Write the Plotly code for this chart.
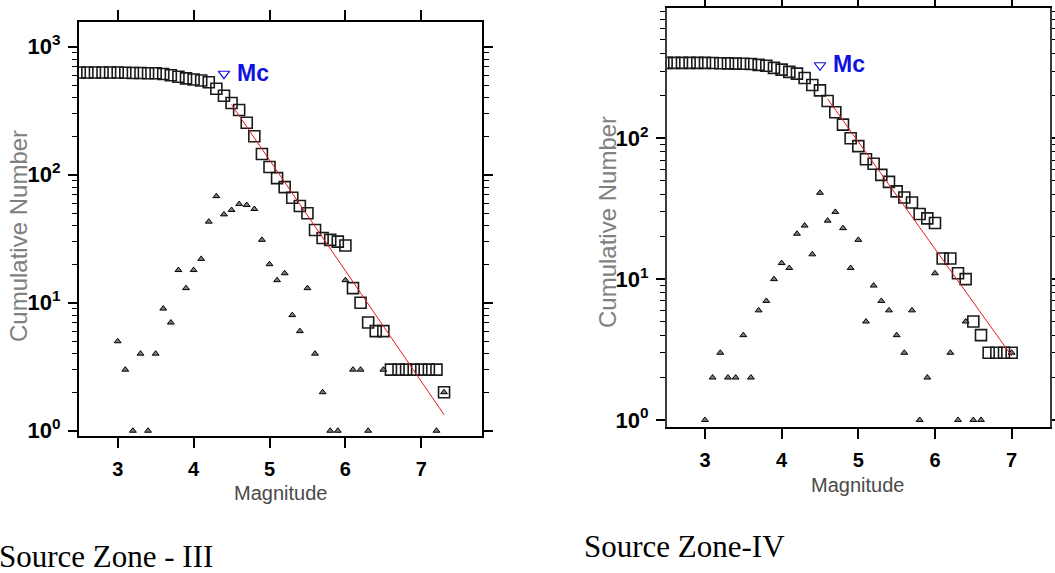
import math
import plotly.graph_objects as go

# ---------------- Source Zone - III ----------------
mag_iii = [2.5, 2.6, 2.7, 2.8, 2.9, 3.0, 3.1, 3.2, 3.3, 3.4, 3.5, 3.6, 3.7, 3.8, 3.9,
           4.0, 4.1, 4.2, 4.3, 4.4, 4.5, 4.6, 4.7, 4.8, 4.9, 5.0, 5.1, 5.2, 5.3, 5.4,
           5.5, 5.6, 5.7, 5.8, 5.9, 6.0, 6.1, 6.2, 6.3, 6.4, 6.5, 6.6, 6.7, 6.8, 6.9,
           7.0, 7.1, 7.2, 7.3]
cum_iii = [628, 628, 628, 628, 628, 628, 626, 624, 623, 621, 620, 612, 598, 583, 566,
           554, 545, 527, 470, 414, 363, 320, 255, 200, 145, 115, 94, 80, 66, 57,
           50, 37, 32, 31, 30, 28, 13, 10, 7, 6, 6, 3, 3, 3, 3,
           3, 3, 3, 2]
nc_mag_iii = [3.0, 3.1, 3.2, 3.3, 3.4, 3.5, 3.6, 3.7, 3.8, 3.9, 4.0, 4.1, 4.2, 4.3, 4.4,
              4.5, 4.6, 4.7, 4.8, 4.9, 5.0, 5.1, 5.2, 5.3, 5.4, 5.5, 5.6, 5.7, 5.8, 5.9,
              6.0, 6.1, 6.2, 6.3, 6.5, 7.2, 7.3]
nc_iii = [5, 3, 1, 4, 1, 4, 9, 7, 18, 13, 18, 22, 43, 68, 49,
          53, 59, 58, 54, 31, 20, 15, 17, 8, 6, 13, 4, 2, 1, 1,
          15, 3, 3, 1, 3, 1, 2]
mc_iii = 4.4
mc_y_iii = 615
fit_a_iii, fit_b_iii = 6.44, 0.865
fit_range_iii = [4.5, 7.3]

# ---------------- Source Zone - IV ----------------
mag_iv = [2.5, 2.6, 2.7, 2.8, 2.9, 3.0, 3.1, 3.2, 3.3, 3.4, 3.5, 3.6, 3.7, 3.8, 3.9,
          4.0, 4.1, 4.2, 4.3, 4.4, 4.5, 4.6, 4.7, 4.8, 4.9, 5.0, 5.1, 5.2, 5.3, 5.4,
          5.5, 5.6, 5.7, 5.8, 5.9, 6.0, 6.1, 6.2, 6.3, 6.4, 6.5, 6.6, 6.7, 6.8, 6.9, 7.0]
cum_iv = [343, 343, 343, 343, 343, 343, 342, 341, 340, 339, 338, 337, 332, 327, 316,
          307, 296, 288, 268, 239, 219, 184, 153, 125, 100, 88, 71, 66, 55, 49,
          42, 38, 35, 29, 27, 25, 14, 14, 11, 10, 5, 4, 3, 3, 3, 3]
nc_mag_iv = [3.0, 3.1, 3.2, 3.3, 3.4, 3.5, 3.6, 3.7, 3.8, 3.9, 4.0, 4.1, 4.2, 4.3, 4.4,
             4.5, 4.6, 4.7, 4.8, 4.9, 5.0, 5.1, 5.2, 5.3, 5.4, 5.5, 5.6, 5.7, 5.8, 5.9,
             6.0, 6.2, 6.3, 6.4, 6.5, 6.6, 7.0]
nc_iv = [1, 2, 3, 2, 2, 4, 2, 6, 7, 10, 13, 12, 21, 24, 15,
         41, 26, 30, 23, 12, 19, 5, 9, 7, 6, 4, 3, 6, 1, 2,
         11, 3, 1, 5, 1, 1, 3]
mc_iv = 4.5
mc_y_iv = 330
fit_a_iv, fit_b_iv = 5.775, 0.76
fit_range_iv = [4.6, 7.0]

x_ticks = [3, 4, 5, 6, 7]
y_major = [1, 10, 100, 1000]
y_major_text = ["10<sup>0</sup>", "10<sup>1</sup>", "10<sup>2</sup>", "10<sup>3</sup>"]
y_minor = [m * 10 ** k for k in range(0, 3) for m in range(2, 10)]

W, H = 1055, 573
NARROW = "Liberation Sans Narrow, Arial Narrow, Liberation Sans, Arial"
XTICKFONT = dict(family=NARROW, size=20, color="black", weight="bold")
YTICKFONT = dict(family=NARROW, size=22, color="black", weight="bold")

fig = go.Figure()


def add_panel(mags, cum, ncm, nc, mc, mcy, a, b, frange, xa, ya):
    fig.add_trace(go.Scatter(
        x=mags, y=cum, mode="markers", xaxis=xa, yaxis=ya,
        marker=dict(symbol="square-open", size=11, color="#1a1a1a",
                    line=dict(width=1.6, color="#1a1a1a")),
        showlegend=False, hoverinfo="skip"))
    fig.add_trace(go.Scatter(
        x=ncm, y=nc, mode="markers", xaxis=xa, yaxis=ya,
        marker=dict(symbol="triangle-up", size=6, color="#7a7a7a",
                    line=dict(width=1, color="black")),
        showlegend=False, hoverinfo="skip"))
    fx = list(frange)
    fy = [10 ** (a - b * v) for v in fx]
    fig.add_trace(go.Scatter(
        x=fx, y=fy, mode="lines", xaxis=xa, yaxis=ya,
        line=dict(color="#e8191c", width=1),
        showlegend=False, hoverinfo="skip"))
    fig.add_trace(go.Scatter(
        x=[mc], y=[mcy], mode="markers", xaxis=xa, yaxis=ya,
        marker=dict(symbol="triangle-down-open", size=10, color="#1010e0",
                    line=dict(width=1.2, color="#1010e0")),
        showlegend=False, hoverinfo="skip"))
    # annotations on a log axis take log10 coordinates
    fig.add_annotation(x=mc, y=math.log10(mcy), xref=xa, yref=ya,
                       text="Mc", showarrow=False, xanchor="left", yanchor="middle",
                       xshift=11, yshift=1,
                       font=dict(family=NARROW, size=23, color="#1010e0", weight="bold"))


add_panel(mag_iii, cum_iii, nc_mag_iii, nc_iii, mc_iii, mc_y_iii,
          fit_a_iii, fit_b_iii, fit_range_iii, "x", "y")
add_panel(mag_iv, cum_iv, nc_mag_iv, nc_iv, mc_iv, mc_y_iv,
          fit_a_iv, fit_b_iv, fit_range_iv, "x2", "y2")

common_x = dict(tickvals=x_ticks, ticktext=[str(v) for v in x_ticks], ticks="outside",
                ticklen=10, tickwidth=1.5, tickcolor="black", showline=True,
                linecolor="black", linewidth=2, mirror="ticks", showgrid=False,
                zeroline=False, tickfont=XTICKFONT, ticklabelstandoff=4, automargin=False)
common_y = dict(type="log", tickvals=y_major, ticktext=y_major_text, ticks="outside",
                ticklen=9, tickwidth=1.5, tickcolor="black", showline=True,
                linecolor="black", linewidth=2, mirror="ticks", showgrid=False,
                zeroline=False, tickfont=YTICKFONT, ticklabelstandoff=3, automargin=False,
                minor=dict(tickvals=y_minor, ticks="outside", ticklen=5, tickwidth=1.2,
                           tickcolor="black", showgrid=False))

fig.update_layout(
    width=W, height=H, margin=dict(l=0, r=0, t=0, b=0),
    paper_bgcolor="white", plot_bgcolor="white", showlegend=False,
    xaxis=dict(common_x, domain=[79 / W, 482 / W], range=[2.49, 7.80], anchor="y"),
    yaxis=dict(common_y, domain=[1 - 436 / H, 1 - 22 / H], range=[-0.041, 3.193], anchor="x"),
    xaxis2=dict(common_x, domain=[667 / W, 1050 / W], range=[2.505, 7.5], anchor="y2"),
    yaxis2=dict(common_y, domain=[1 - 427 / H, 1 - 8 / H], range=[-0.05, 2.925], anchor="x2",
                linecolor="#3a3a3a"),
)

label_font = dict(family="Liberation Sans, Arial", size=24, color="#808080")
mag_font = dict(family=NARROW, size=20, color="#4a4a4a")
fig.add_annotation(x=18 / W, y=1 - 236 / H, xref="paper", yref="paper", text="Cumulative Number",
                   textangle=-90, showarrow=False, xanchor="center", yanchor="middle",
                   font=label_font)
fig.add_annotation(x=607 / W, y=1 - 222 / H, xref="paper", yref="paper", text="Cumulative Number",
                   textangle=-90, showarrow=False, xanchor="center", yanchor="middle",
                   font=label_font)
fig.add_annotation(x=280 / W, y=1 - 493 / H, xref="paper", yref="paper", text="Magnitude",
                   showarrow=False, xanchor="center", yanchor="middle", font=mag_font)
fig.add_annotation(x=857 / W, y=1 - 485 / H, xref="paper", yref="paper", text="Magnitude",
                   showarrow=False, xanchor="center", yanchor="middle", font=mag_font)
serif = dict(family="Liberation Serif, Times New Roman, serif", size=31, color="black")
fig.add_annotation(x=0, y=1 - 556 / H, xref="paper", yref="paper", text="Source Zone - III",
                   showarrow=False, xanchor="left", yanchor="middle", xshift=-3, font=serif)
fig.add_annotation(x=582 / W, y=1 - 546 / H, xref="paper", yref="paper", text="Source Zone-IV",
                   showarrow=False, xanchor="left", yanchor="middle", font=serif)

fig.write_html("out.html")
